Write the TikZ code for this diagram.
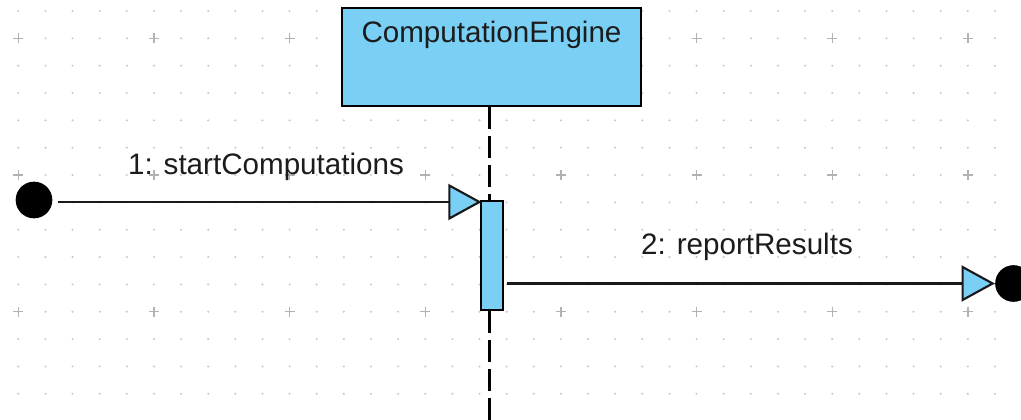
\documentclass[tikz,border=0pt]{standalone}
\usepackage{fontspec}
\setmainfont{Liberation Sans}
\usetikzlibrary{arrows.meta,calc}
\definecolor{umlblue}{RGB}{122,207,245}
\definecolor{gridgray}{RGB}{200,200,200}
\definecolor{plusgray}{RGB}{178,178,178}
\definecolor{inkdark}{RGB}{28,28,28}
\begin{document}
\begin{tikzpicture}[x=0.75pt,y=-0.75pt,
  lbl/.style={font=\fontsize{22.2pt}{26pt}\selectfont, text=inkdark, inner sep=0pt},
  lifebox/.style={draw=black, line width=1.6pt, fill=umlblue, rectangle,
    minimum width=224pt, minimum height=73.5pt, inner sep=0pt},
  actbar/.style={draw=black, line width=1.6pt, fill=umlblue, rectangle,
    minimum width=16.5pt, minimum height=82pt, inner sep=0pt},
  gate/.style={circle, fill=black, minimum size=27.5pt, inner sep=0pt},
  lifeline/.style={draw=black, line width=1.9pt, dash pattern=on 16.5pt off 5.3pt},
  msg/.style={draw=black!90, line width=1.9pt,
    -{Triangle[length=25pt, width=27pt, fill=umlblue, line width=1.6pt]}}]
  \useasboundingbox (0,0) rectangle (1021,420);
  \fill[white] (0,0) rectangle (1021,420);

  % dotted drawing grid with crosses every fifth point
  \foreach \k in {0,...,36}
    \foreach \j in {0,...,15}
      \fill[gridgray] (18.3+27.13*\k, 11+27.34*\j) circle[radius=0.85pt];
  \foreach \k in {0,5,...,35}
    \foreach \j in {1,6,11}
      \draw[plusgray, line width=1pt]
        (18.3+27.13*\k-5, 11+27.34*\j) -- (18.3+27.13*\k+5, 11+27.34*\j)
        (18.3+27.13*\k, 11+27.34*\j-5) -- (18.3+27.13*\k, 11+27.34*\j+5);

  % participant and its activation
  \node[lifebox] (engine) at (491.5,57) {};
  \node[lbl, anchor=base] (engineName) at ($(engine.north)+(0,35.3)$) {ComputationEngine};

  % lifeline, interrupted by the activation bar
  \node[actbar] (bar) at (491.7,255.4) {};
  \coordinate (lifetop) at ($(engine.south)+(-2,0)$);
  \coordinate (lifeend) at (489.5,420);
  \draw[lifeline] (lifetop) -- (lifetop |- bar.north);
  \draw[lifeline] (lifetop |- bar.south) -- (lifeend);
  \node[actbar] at (bar) {};

  % found and lost message endpoints
  \node[gate] (start) at (34,200) {};
  \node[gate] (stop) at (1013.5,283.5) {};

  % messages
  \draw[msg] ([shift={(5,2)}]start.east) -- ([shift={(2,2)}]start -| bar.west);
  \draw[msg, shorten <=2.5pt] (bar.east |- stop) -- (stop);

  \node[lbl, anchor=base] (m1) at (266,174.3) {1: startComputations};
  \node[lbl, anchor=base] (m2) at (747,255) {2: reportResults};
\end{tikzpicture}
\end{document}
